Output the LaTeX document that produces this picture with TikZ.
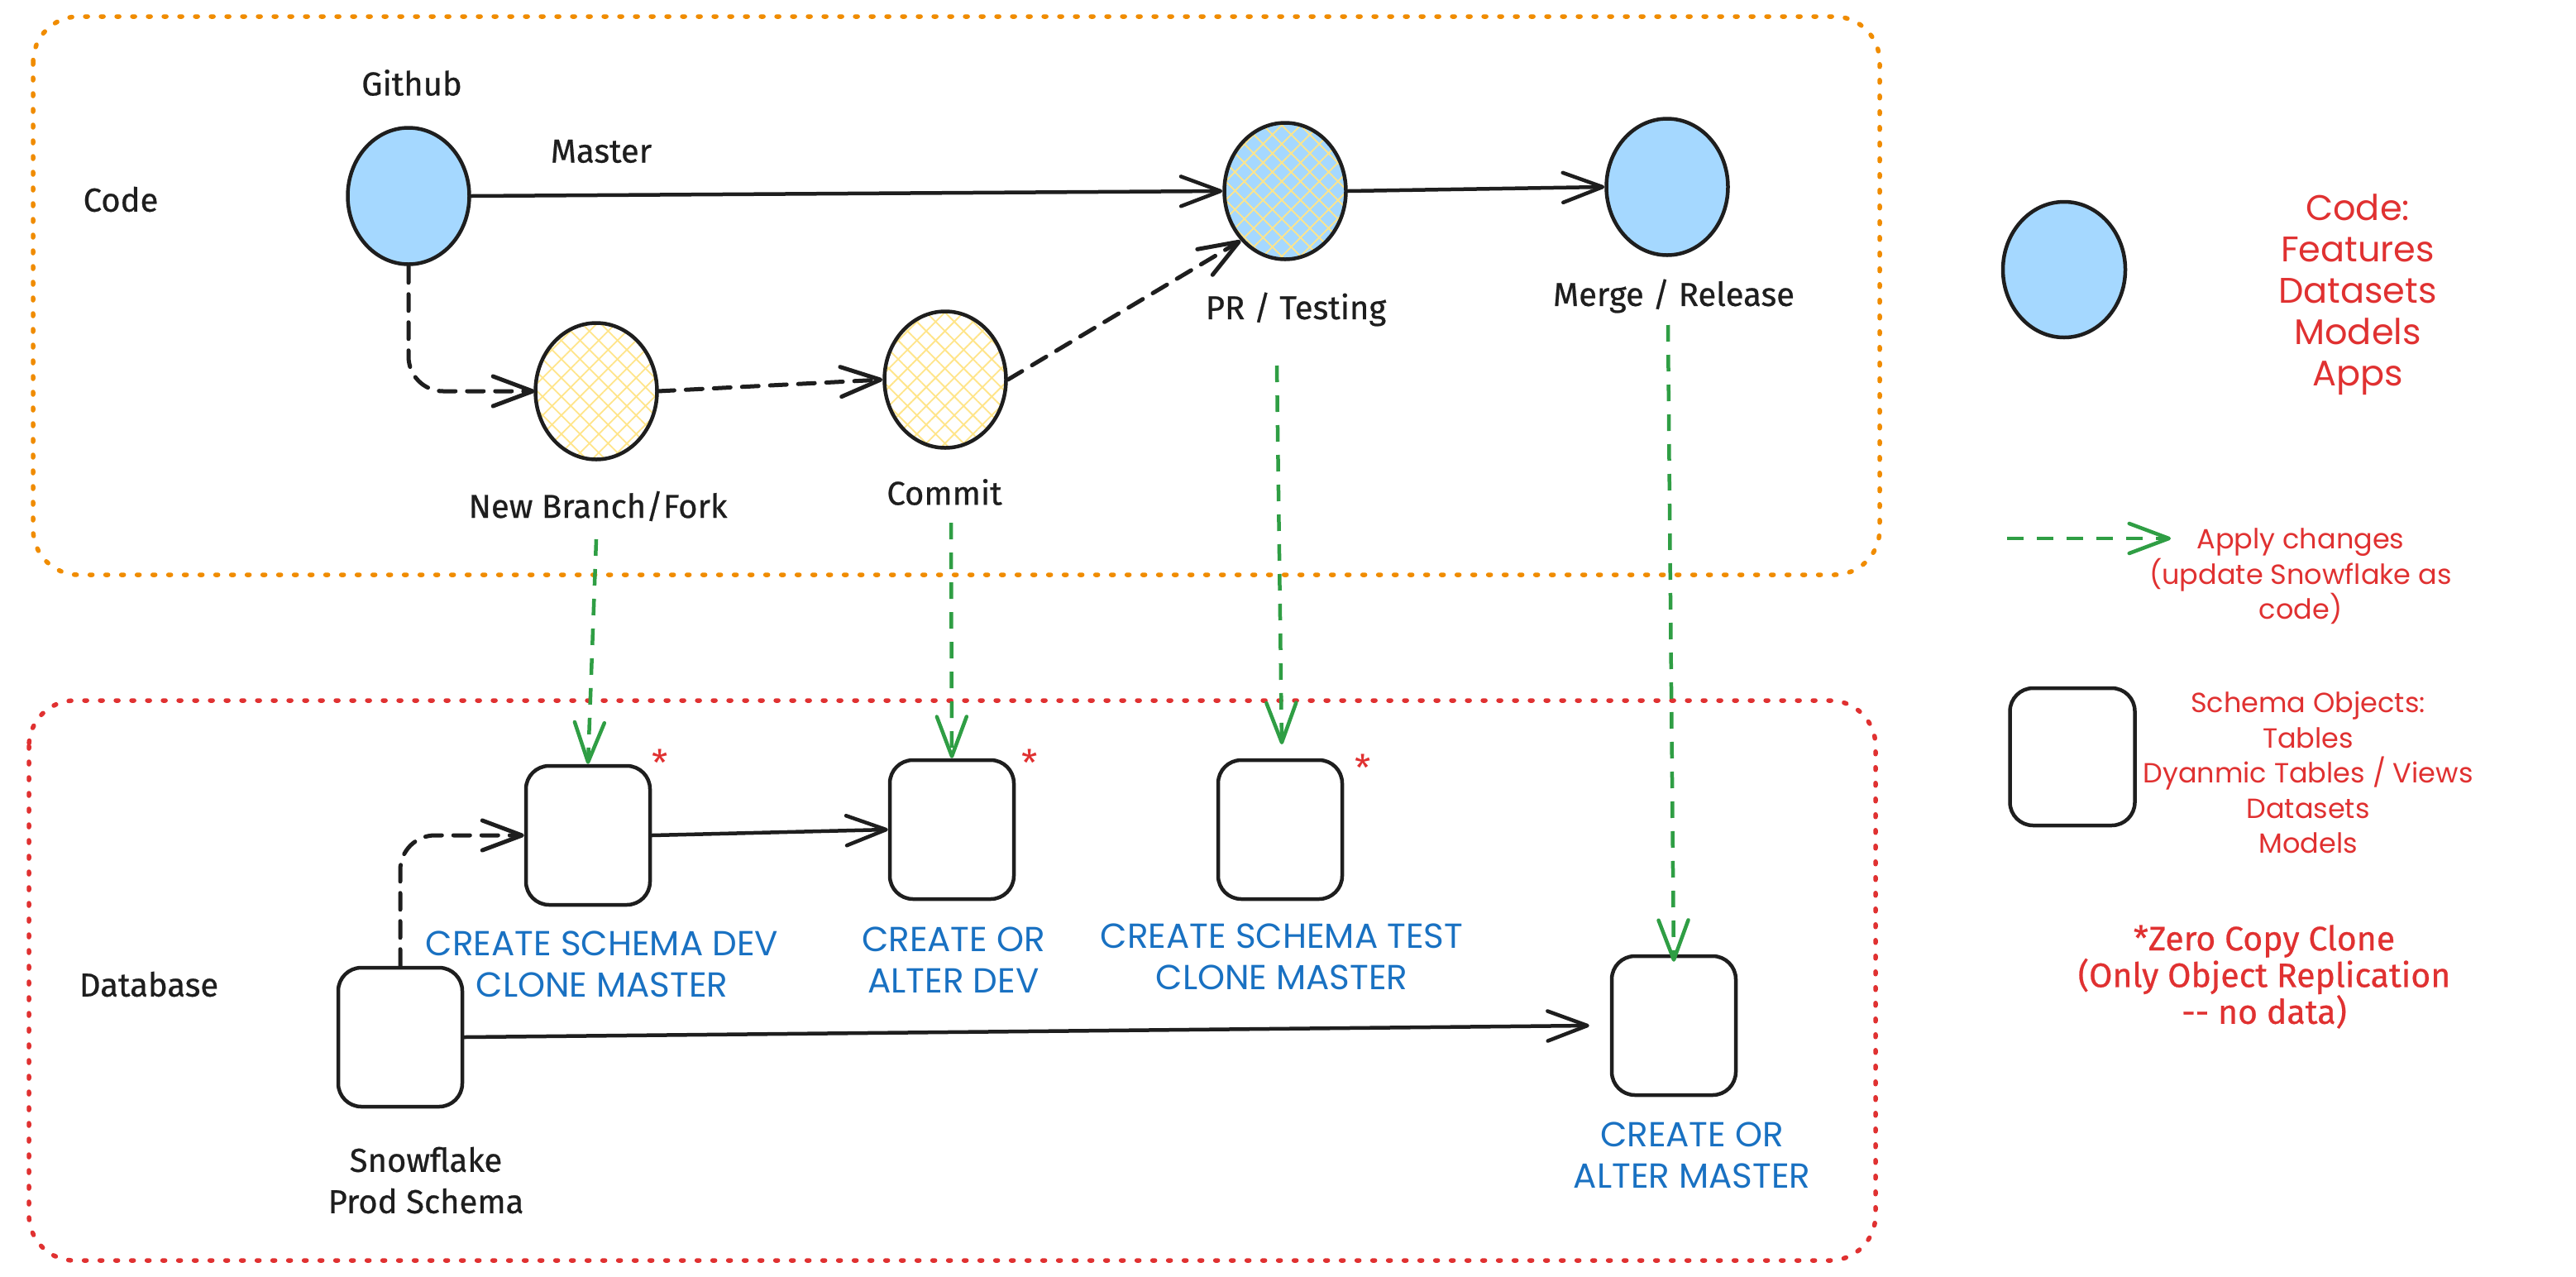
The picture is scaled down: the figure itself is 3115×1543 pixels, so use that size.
\documentclass[tikz,border=0pt]{standalone}
\usepackage{fontspec}
\setmainfont{Fira Sans}
\newfontfamily\inkfont{Fira Sans}[FakeBold=0.6]
\newfontfamily\popfont{Poppins}
\usetikzlibrary{shapes.geometric, arrows.meta, patterns.meta}
\definecolor{ink}{HTML}{1E1E1E}
\definecolor{exorange}{HTML}{F08C00}
\definecolor{exred}{HTML}{E03131}
\definecolor{exblue}{HTML}{1971C2}
\definecolor{exgreen}{HTML}{2F9E44}
\definecolor{bluefill}{HTML}{A5D8FF}
\definecolor{hatchy}{HTML}{FFE58A}
\begin{document}
\begin{tikzpicture}[x=1pt, y=-1pt,
  circ/.style={ellipse, draw=ink, line width=4.5pt, minimum width=147pt, minimum height=165pt, inner sep=0pt},
  bluecirc/.style={circ, fill=bluefill},
  hatchcirc/.style={circ, pattern={Hatch[angle=45,distance=16pt,line width=1.8pt]}, pattern color=hatchy},
  hatchbluecirc/.style={circ, preaction={fill=bluefill}, pattern={Hatch[angle=45,distance=16pt,line width=1.8pt]}, pattern color=hatchy},
  boxnode/.style={draw=ink, line width=4.5pt, rounded corners=28pt, minimum width=150pt, minimum height=168pt, inner sep=0pt},
  lbl/.style={text=ink, font=\inkfont\fontsize{40}{50}\selectfont, align=center, inner sep=0pt},
  bluelbl/.style={text=exblue, font=\popfont\fontsize{42}{50}\selectfont, align=center, inner sep=0pt},
  redbig/.style={text=exred, font=\popfont\fontsize{43}{50}\selectfont, align=center, inner sep=0pt},
  redmid/.style={text=exred, font=\popfont\fontsize{33.5}{42.5}\selectfont, align=center, inner sep=0pt},
  redlbl/.style={text=exred, font=\inkfont\fontsize{41}{40}\selectfont, align=center, inner sep=0pt},
  redstar/.style={text=exred, font=\fontsize{44}{44}\selectfont, inner sep=0pt},
  tipV/.style={-{Straight Barb[length=48pt, width=36pt, round]}},
  conn/.style={draw=ink, line width=4.5pt, line cap=round, tipV},
  dashconn/.style={conn, line width=5pt, dash pattern=on 20pt off 14pt, rounded corners=42pt},
  greenconn/.style={draw=exgreen, line width=4.5pt, dash pattern=on 20pt off 16pt, tipV},
  frame/.style={line width=5.5pt, dash pattern=on 3pt off 16pt, line cap=round, rounded corners=55pt}
]
\useasboundingbox (0,0) rectangle (3115,1543);
\fill[white] (0,0) rectangle (3115,1543);

% frames
\draw[frame, draw=exorange] (40,20) rectangle (2273,695);
\draw[frame, draw=exred] (35,847) rectangle (2268,1524);

% code circles
\node[bluecirc] (github) at (494,237) {};
\node[hatchcirc] (branch) at (721,473) {};
\node[hatchcirc] (commit) at (1143,459) {};
\node[hatchbluecirc] (pr) at (1554,231) {};
\node[bluecirc] (merge) at (2016,226) {};

% schema boxes
\node[boxnode] (dev) at (711,1010) {};
\node[boxnode] (altdev) at (1151,1003) {};
\node[boxnode] (test) at (1548,1003) {};
\node[boxnode] (prod) at (484,1254) {};
\node[boxnode] (master) at (2024,1240) {};

% labels
\node[lbl] (tgithub) at (498,100) {Github};
\node[lbl] (tmaster) at (727,183) {Master};
\node[lbl] (tcode) at (146,241) {Code};
\node[lbl] (tbranch) at (723,612) {New Branch/Fork};
\node[lbl] (tcommit) at (1142,595) {Commit};
\node[lbl] (tpr) at (1567,374) {PR / Testing};
\node[lbl] (tmerge) at (2024,358) {Merge / Release};
\node[lbl] (tdb) at (180,1190) {Database};
\node[lbl] (tprod) at (515,1427) {Snowflake\\Prod Schema};

\node[bluelbl] (tdev) at (728,1166) {CREATE SCHEMA DEV\\CLONE MASTER};
\node[bluelbl] (taltdev) at (1153,1161) {CREATE OR\\ALTER DEV};
\node[bluelbl] (ttest) at (1550,1157) {CREATE SCHEMA TEST\\CLONE MASTER};
\node[bluelbl] (tmastr) at (2046,1397) {CREATE OR\\ALTER MASTER};

\node[redstar] (s1) at (798,922) {*};
\node[redstar] (s2) at (1245,922) {*};
\node[redstar] (s3) at (1648,928) {*};

% legend
\node[bluecirc, minimum width=148pt, minimum height=164pt] (legcirc) at (2496,326) {};
\node[redbig] (tlegcode) at (2851,356) {Code:\\Features\\Datasets\\Models\\Apps};
\coordinate (legA) at (2427,651);
\coordinate (legB) at (2625,651);
\node[redmid] (tapply) at (2782,697) {Apply changes\\(update Snowflake as\\code)};
\node[boxnode, minimum width=151pt, minimum height=166pt] (legbox) at (2506,915) {};
\node[redmid] (tschema) at (2791,934) {Schema Objects:\\Tables\\Dyanmic Tables / Views\\Datasets\\Models};
\node[redlbl] (tzero) at (2738,1181) {*Zero Copy Clone\\(Only Object Replication\\-{}- no data)};

% code connectors
\draw[conn] (github.east) -- (pr.west);
\draw[conn] (pr.east) -- (merge.west);
\draw[dashconn] (github.south) |- (branch.west);
\draw[dashconn] (branch.east) -- (commit.west);
\draw[dashconn] (commit.east) -- (pr.south west);

% database connectors
\draw[conn] (dev.east) -- (altdev.west);
\draw[conn] (prod.east) -- ([xshift=-25pt]master.west);
\draw[dashconn] (prod.north) |- (dev.west);

% green apply-changes arrows
\coordinate (g1) at (721,652);
\coordinate (g2) at (1150,632);
\coordinate (g3) at (1544,442);
\coordinate (g4) at (2017,393);
\coordinate (g3e) at (1550,900);
\draw[greenconn] (g1) -- (dev.north);
\draw[greenconn] (g2) -- (altdev.north);
\draw[greenconn] (g3) -- (g3e);
\draw[greenconn] (g4) -- ([yshift=-9pt]master.north);
\draw[greenconn] (legA) -- (legB);
\end{tikzpicture}
\end{document}
